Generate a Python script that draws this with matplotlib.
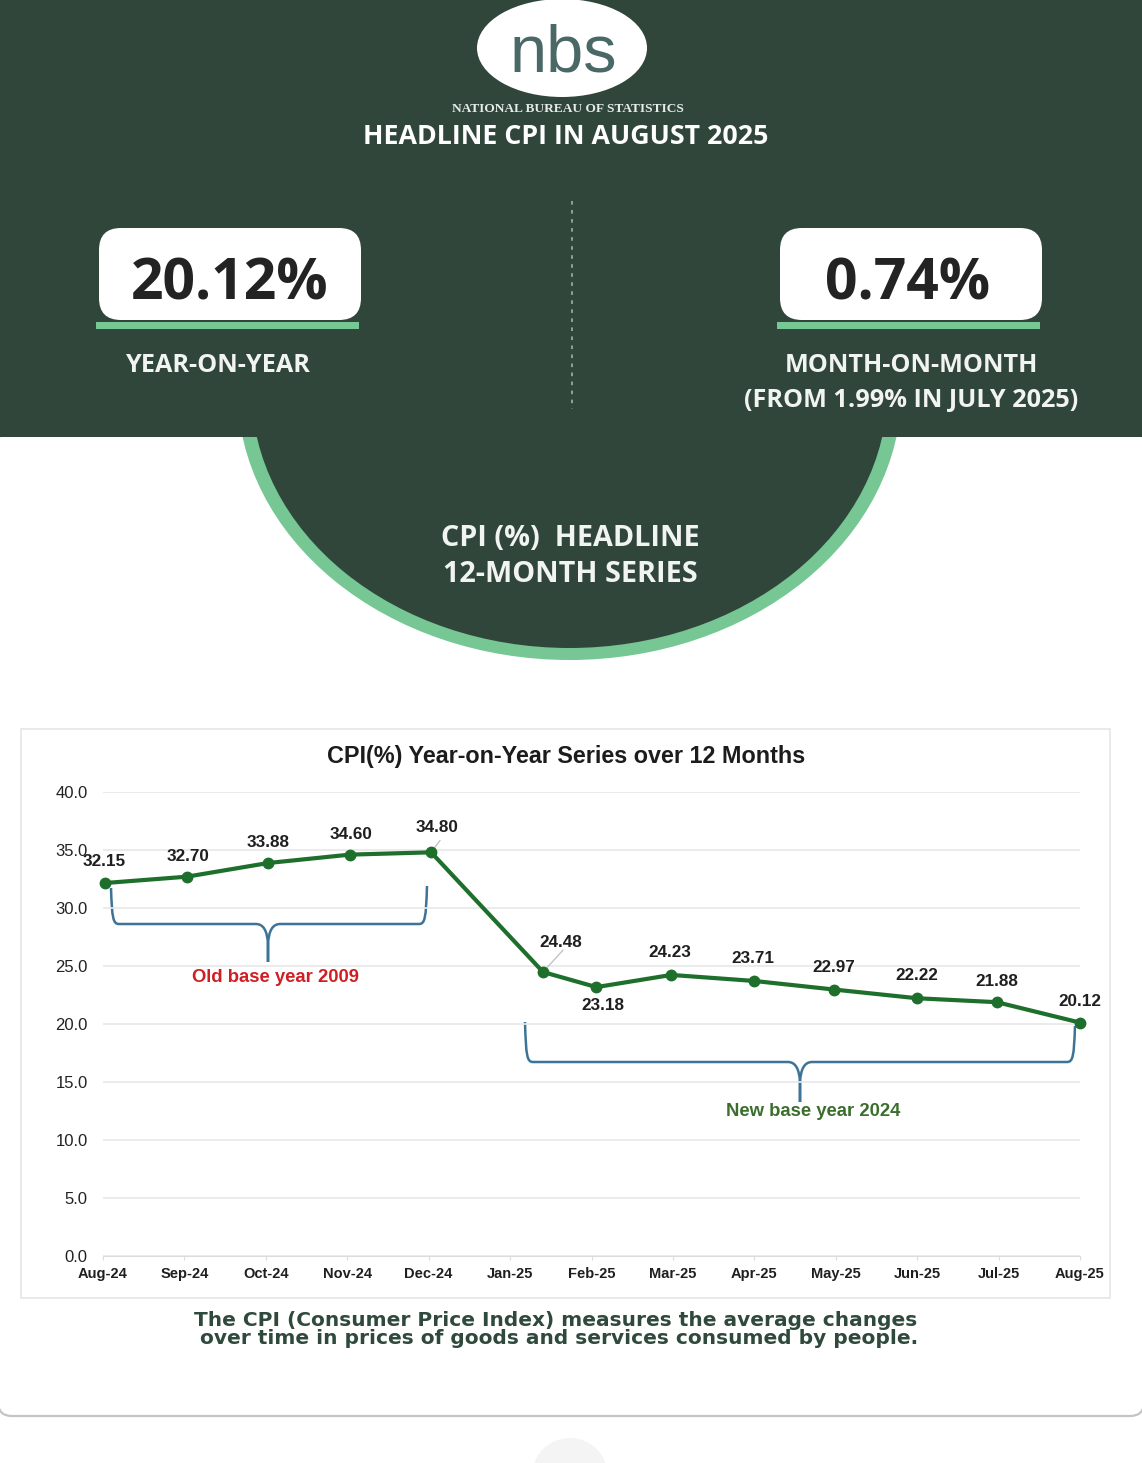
import matplotlib
matplotlib.use("Agg")
import matplotlib.pyplot as plt
from matplotlib.patches import Ellipse, FancyBboxPatch, Rectangle
from matplotlib.path import Path
from matplotlib.patches import PathPatch

months = ["Aug-24","Sep-24","Oct-24","Nov-24","Dec-24","Jan-25","Feb-25","Mar-25","Apr-25","May-25","Jun-25","Jul-25","Aug-25"]
yoy = [32.15,32.70,33.88,34.60,34.80,24.48,23.18,24.23,23.71,22.97,22.22,21.88,20.12]
point_shift = [0.02,0.03,0.03,0.03,0.03,0.405,0.06,-0.02,0,-0.02,0,-0.02,0]
label_dx = [0,1,0,1,6,18,6,-1,-1,0,0,0,0]
label_dy = [22,20,20,20,25,30,-18,22,22,22,23,21,21]
yticks = [0,5,10,15,20,25,30,35,40]

DARK = "#30463b"; MINT = "#76c794"; W = 1142; H = 1463
fig = plt.figure(figsize=(W/100, H/100), dpi=100, facecolor="white")
bg = fig.add_axes([0,0,1,1]); bg.set_xlim(0,W); bg.set_ylim(H,0); bg.axis("off")
SANS = "Open Sans"

# card
bg.add_patch(FancyBboxPatch((-2,430),W+4,986,boxstyle="round,pad=0,rounding_size=14",fc="white",ec="#c4c4c4",lw=1.6,zorder=1))
# half-ellipse
bg.add_patch(Ellipse((569.5,390),664,540,fc=MINT,ec="none",zorder=2))
bg.add_patch(Ellipse((569.5,390),636,516,fc=DARK,ec="none",zorder=2.1))
bg.add_patch(Rectangle((0,0),W,437,fc=DARK,ec="none",zorder=2.2))
bg.add_patch(Ellipse((570,1476),76,76,fc="#f4f4f4",ec="none",zorder=1.5))

# logo
bg.add_patch(Ellipse((562,48),170,98,fc="white",ec="none",zorder=3))
bg.text(563,71,"nbs",color="#4a6865",fontsize=48,family="Liberation Sans",ha="center",va="baseline",zorder=4)
bg.text(568,108.5,"NATIONAL BUREAU OF STATISTICS",color="#e8ece9",fontsize=9.6,family="Liberation Serif",weight="bold",ha="center",va="center",zorder=4)
bg.text(566,137.5,"HEADLINE CPI IN AUGUST 2025",color="white",fontsize=19.3,family=SANS,weight="bold",ha="center",va="center",zorder=4)
bg.plot([572,572],[201,409],color="#9aa8a0",lw=1.3,ls=(0,(2,3)),zorder=4)

# KPI boxes
for x0,x1,txt,tx in [(99,361,"20.12%",230),(780,1042,"0.74%",908)]:
    bg.add_patch(FancyBboxPatch((x0,228),x1-x0,92,boxstyle="round,pad=0,rounding_size=22",fc="white",ec="none",zorder=4))
    bg.add_patch(Rectangle((x0-3,322),x1-x0+1,7,fc=MINT,ec="none",zorder=4))
    bg.text(tx,284,txt,color="#232323",fontsize=41,family=SANS,weight="bold",ha="center",va="center",zorder=5)
for tx,ty,s in [(218,365.5,"YEAR-ON-YEAR"),(911,365.5,"MONTH-ON-MONTH"),(911,400.5,"(FROM 1.99% IN JULY 2025)")]:
    bg.text(tx,ty,s,color="#f2f4f2",fontsize=18.2,family=SANS,weight="bold",ha="center",va="center",zorder=5)
bg.text(570,538,"CPI (%)  HEADLINE",color="#f2f4f2",fontsize=20.7,family=SANS,weight="bold",ha="center",va="center",zorder=5)
bg.text(570,574,"12-MONTH SERIES",color="#f2f4f2",fontsize=20.7,family=SANS,weight="bold",ha="center",va="center",zorder=5)

# chart frame
bg.add_patch(Rectangle((20.5,728.5),1089,569,fc="white",ec="#e6e6e6",lw=1.2,zorder=3))
bg.text(566,756.5,"CPI(%) Year-on-Year Series over 12 Months",color="#1c1c1c",fontsize=16.8,family="Liberation Sans",weight="bold",ha="center",va="center",zorder=5)

# chart axes: plot area in pixels
L,R,T,B = 103,1080,792,1256
ax = fig.add_axes([L/W,1-B/H,(R-L)/W,(B-T)/H],facecolor="none",zorder=5)
x = [i+s for i,s in enumerate(point_shift)]
ax.set_xlim(0,len(months)-1); ax.set_ylim(0,40)
ax.set_yticks(yticks); ax.set_yticklabels([f"{v:.1f}" for v in yticks])
ax.set_xticks(range(len(months))); ax.set_xticklabels(months)
ax.grid(axis="y",color="#e8e8e8",lw=1.2); ax.set_axisbelow(True)
for s in ["top","right","left"]: ax.spines[s].set_visible(False)
ax.spines["bottom"].set_color("#dcdcdc")
ax.tick_params(axis="x",length=3,color="#dcdcdc",labelsize=10.5,labelcolor="#1f1f1f",pad=5)
ax.tick_params(axis="y",length=0,labelsize=12,labelcolor="#222222",pad=11)
for t in ax.get_xticklabels():
    t.set_family("Liberation Sans"); t.set_weight("bold")
for t in ax.get_yticklabels():
    t.set_family("Liberation Sans")
ax.plot(x,yoy,color="#1f6f2c",lw=3,marker="o",ms=7.5,clip_on=False,zorder=4)
for xi,v,dx,dy in zip(x,yoy,label_dx,label_dy):
    ax.annotate(f"{v:.2f}",(xi,v),xytext=(dx*0.72,dy*0.72),textcoords="offset points",ha="center",va="center",
                fontsize=12.3,family="Liberation Sans",weight="bold",color="#1f1f1f",annotation_clip=False,zorder=6)
# leader lines
for i,(px,py) in {4:(9,-12),5:(20,-22)}.items():
    ax.annotate("",(x[i],yoy[i]),xytext=(px*0.72,-py*0.72),textcoords="offset points",
                arrowprops=dict(arrowstyle="-",color="#c4c4c4",lw=1,shrinkA=0,shrinkB=0))

def brace(x0,x1,top0,top1,bar,tipx,tipy):
    C3,C4,LN,MV = Path.CURVE3,Path.CURVE4,Path.LINETO,Path.MOVETO
    v=[(x0,top0),(x0+1,bar-6),(x0+2,bar),(x0+8,bar),(tipx-12,bar),(tipx-1,bar),(tipx,bar+20),(tipx,tipy),
       (tipx,bar+20),(tipx+1,bar),(tipx+12,bar),(x1-8,bar),(x1-2,bar),(x1-1,bar-6),(x1,top1)]
    c=[MV,C4,C4,C4,LN,C3,C3,LN,LN,C3,C3,LN,C4,C4,C4]
    bg.add_patch(PathPatch(Path(v,c),fc="none",ec="#3c7396",lw=1.8,zorder=4))
brace(111,427,888,886,924,268,962)
brace(525,1075,1022,1026,1062,800,1102)
bg.text(275,977,"Old base year 2009",color="#cf1f25",fontsize=13.3,family="Liberation Sans",weight="bold",ha="center",va="center",zorder=7)
bg.text(813,1111.5,"New base year 2024",color="#3b6e2c",fontsize=13.3,family="Liberation Sans",weight="bold",ha="center",va="center",zorder=7)

# footer
bg.text(556,1320,"The CPI (Consumer Price Index) measures the average changes",color="#2f4a3c",fontsize=14.5,family="DejaVu Sans",weight="bold",ha="center",va="center",zorder=5)
bg.text(559,1339,"over time in prices of goods and services consumed by people.",color="#2f4a3c",fontsize=14.5,family="DejaVu Sans",weight="bold",ha="center",va="center",zorder=5)
fig.savefig("out.png",dpi=100)
